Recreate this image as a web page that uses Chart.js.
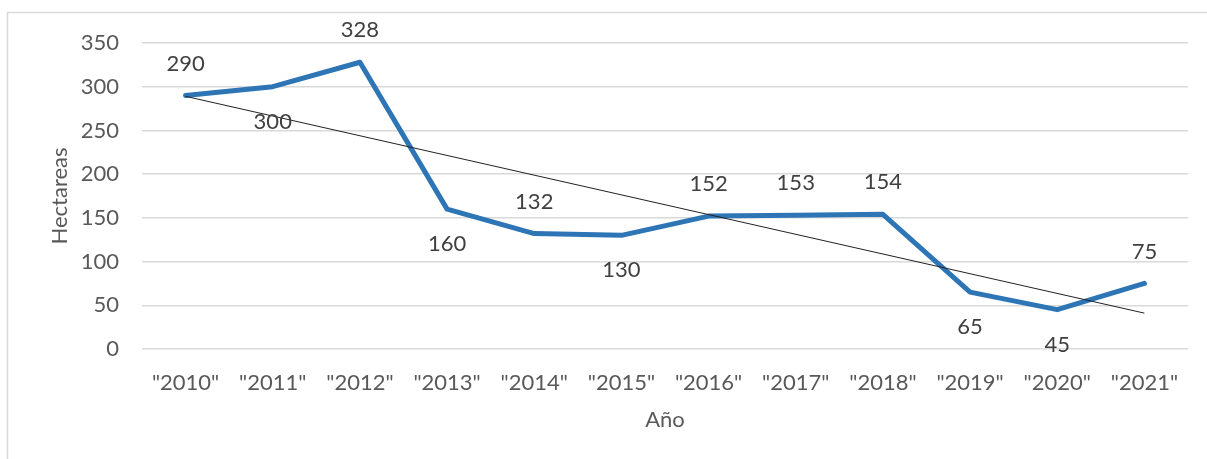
<!DOCTYPE html>
<html>
<head>
<meta charset="utf-8">
<script src="https://cdn.jsdelivr.net/npm/chart.js@4"></script>
<style>
    html, body { margin: 0; padding: 0; background: #fff; }
    #wrap { position: relative; width: 1207px; height: 459px; }
</style>
</head>
<body>
<div id="wrap"><canvas id="chart" width="1207" height="459"></canvas></div>
<script>
// ===== DATA =====
const years = ['"2010"', '"2011"', '"2012"', '"2013"', '"2014"', '"2015"',
               '"2016"', '"2017"', '"2018"', '"2019"', '"2020"', '"2021"'];
const hectareas = [290, 300, 328, 160, 132, 130, 152, 153, 154, 65, 45, 75];
// trendline ends (first and last year)
const trendStart = 289;
const trendEnd = 41;
const yTicks = [0, 50, 100, 150, 200, 250, 300, 350];

const trendValues = years.map((_, i) =>
    i === 0 ? trendStart : (i === years.length - 1 ? trendEnd : null));

// where each value label sits relative to its point
const labelSide = ['up', 'down', 'up', 'down', 'up', 'down', 'up', 'up', 'up', 'down', 'down', 'up'];

const FONT = 'Lato, "Open Sans", sans-serif';

// ===== PLUGINS =====
const frame = {
    id: 'frame',
    beforeDraw(chart) {
        const ctx = chart.ctx;
        ctx.save();
        ctx.fillStyle = '#fff';
        ctx.fillRect(0, 0, chart.width, chart.height);
        ctx.strokeStyle = '#d9d9d9';
        ctx.lineWidth = 1.5;
        ctx.strokeRect(7.5, 12.5, chart.width + 10, chart.height + 10);
        ctx.restore();
    }
};

const valueLabels = {
    id: 'valueLabels',
    afterDatasetsDraw(chart) {
        const ctx = chart.ctx;
        const meta = chart.getDatasetMeta(0);
        ctx.save();
        ctx.font = '22px ' + FONT;
        ctx.fillStyle = '#404040';
        ctx.textAlign = 'center';
        ctx.textBaseline = 'middle';
        meta.data.forEach((pt, i) => {
            const dy = labelSide[i] === 'up' ? -32 : 35;
            ctx.fillText(String(hectareas[i]), pt.x, pt.y + dy);
        });
        ctx.restore();
    }
};

// ===== CHART =====
new Chart(document.getElementById('chart'), {
    type: 'line',
    data: {
        labels: years,
        datasets: [{
            label: 'Hectareas',
            data: hectareas,
            borderColor: '#2e75b6',
            borderWidth: 5,
            pointRadius: 0,
            tension: 0,
            borderJoinStyle: 'round',
            borderCapStyle: 'round',
            order: 1
        }, {
            label: 'Tendencia',
            data: trendValues,
            borderColor: '#222',
            borderWidth: 1,
            pointRadius: 0,
            spanGaps: true,
            order: 0
        }]
    },
    options: {
        responsive: false,
        animation: false,
        layout: { padding: { top: 43, right: 19, left: 0, bottom: 0 } },
        plugins: {
            legend: { display: false },
            tooltip: { enabled: false }
        },
        scales: {
            x: {
                offset: true,
                grid: { display: false, drawTicks: false },
                border: { display: false },
                ticks: {
                    color: '#595959',
                    padding: 21,
                    maxRotation: 0,
                    autoSkip: false,
                    font: { size: 22, family: FONT }
                },
                title: {
                    display: true,
                    text: 'Año',
                    color: '#595959',
                    font: { size: 22, family: FONT },
                    padding: { bottom: 26 }
                },
                afterFit(scale) { scale.height = 110; }
            },
            y: {
                min: 0,
                max: 350,
                afterBuildTicks(scale) {
                    scale.ticks = yTicks.map(v => ({ value: v }));
                },
                grid: { color: '#d9d9d9', lineWidth: 1.5, drawTicks: false },
                border: { display: false },
                ticks: {
                    color: '#595959',
                    padding: 23,
                    font: { size: 22, family: FONT }
                },
                title: {
                    display: true,
                    text: 'Hectareas',
                    color: '#595959',
                    font: { size: 22, family: FONT },
                    padding: { top: 47 }
                },
                afterFit(scale) { scale.width = 142; }
            }
        }
    },
    plugins: [frame, valueLabels]
});
</script>
</body>
</html>
